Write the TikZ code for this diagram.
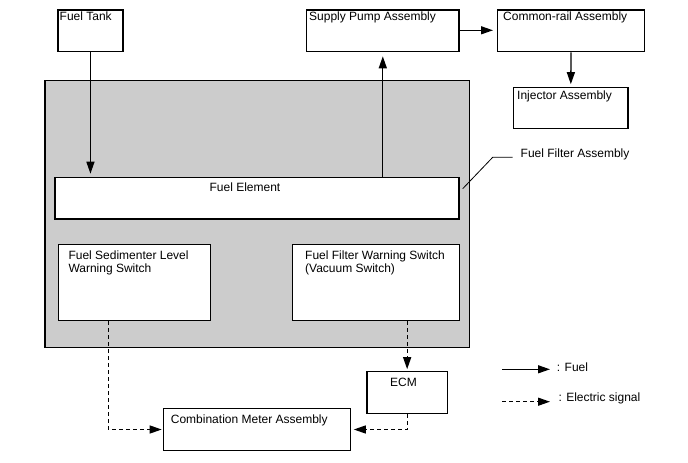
\documentclass[tikz,border=0pt]{standalone}
\usepackage{fontspec}
\setmainfont{Liberation Sans}
\usetikzlibrary{arrows.meta,calc}
\begin{document}
\begin{tikzpicture}[x=1pt,y=-1pt,
  box/.style={draw=black,line width=1.3pt,fill=white,inner sep=0pt,anchor=north west},
  grp/.style={draw=black,line width=1.3pt,fill=black!20,inner sep=0pt,anchor=north west},
  lbl/.style={inner sep=0pt,font=\fontsize{12}{14}\selectfont,anchor=base west},
  lblc/.style={inner sep=0pt,font=\fontsize{12}{14}\selectfont,anchor=base},
  fuel/.style={line width=1.3pt,-{Triangle[length=12pt,width=8pt]}},
  elec/.style={line width=1.3pt,dash pattern=on 4pt off 3pt,-{Triangle[length=12pt,width=8pt]}},
  lead/.style={line width=0.8pt}]
\useasboundingbox (0,0) rectangle (688,463);
% boxes
\node[box,minimum width=65pt,minimum height=41.7pt] (ft) at (57.3,9.3) {};
\node[box,minimum width=152.3pt,minimum height=41.7pt] (sp) at (306,9.3) {};
\node[box,minimum width=146.7pt,minimum height=41.7pt] (cr) at (497,9.3) {};
\node[box,minimum width=114.3pt,minimum height=41.3pt] (inj) at (513,86.7) {};
\node[grp,minimum width=424.4pt,minimum height=267pt] (ffa) at (44.3,80) {};
\node[box,minimum width=404pt,minimum height=41.6pt] (fe) at (54.3,176.7) {};
\node[box,minimum width=152.3pt,minimum height=76pt] (sed) at (57.7,244) {};
\node[box,minimum width=167pt,minimum height=76pt] (vac) at (291.7,244) {};
\node[box,minimum width=80.4pt,minimum height=42pt] (ecm) at (366.3,370.7) {};
\node[box,minimum width=187.3pt,minimum height=42.3pt] (cmb) at (162.7,407.7) {};
% labels
\node[lbl] (tft) at (59.5,20.8) {Fuel Tank};
\node[lbl] (tsp) at (309,20.8) {Supply Pump Assembly};
\node[lbl] (tcr) at (503,20.8) {Common-rail Assembly};
\node[lbl] (tinj) at (517,99.8) {Injector Assembly};
\node[lbl] (tffa) at (520.5,157) {Fuel Filter Assembly};
\node[lblc] (tfe) at (245,191.8) {Fuel Element};
\node[lbl] (tsed1) at (68.3,259.2) {Fuel Sedimenter Level};
\node[lbl] (tsed2) at (68.3,272.8) {Warning Switch};
\node[lbl] (tvac1) at (305,259.2) {Fuel Filter Warning Switch};
\node[lbl] (tvac2) at (305,272.8) {(Vacuum Switch)};
\node[lblc] (tecm) at (403.5,386.8) {ECM};
\node[lbl] (tcmb) at (170.7,423.3) {Combination Meter Assembly};
\node[lbl] (tlf) at (556.7,371.3) {: Fuel};
\node[lbl] (tle) at (558.3,401.8) {: Electric signal};
% leader line
\coordinate (ld1) at (462.7,188.7);
\coordinate (ld2) at (492.7,157.3);
\coordinate (ld3) at (512.7,157.3);
\draw[lead] (ld1) -- (ld2) -- (ld3);
% fuel connectors
\draw[fuel,shorten >=3pt] (ft.south) -- (ft.south |- fe.north);
\draw[fuel,shorten >=4pt] (sp.south |- fe.north) -- (sp.south);
\draw[fuel,shorten >=4pt] (sp.east |- 0,30.3) -- (cr.west |- 0,30.3);
\draw[fuel,shorten >=2.5pt] (cr.south) -- (inj.north);
% electric connectors
\draw[elec,shorten >=1pt] ($(sed.south west)+(50.6,0)$) |- (cmb.west);
\draw[elec,shorten >=1.5pt] (ecm.north |- vac.south) -- (ecm.north);
\draw[elec,shorten >=2.5pt] (ecm.south) |- (cmb.east);
% legend
\coordinate (lf1) at (502.3,369.3);
\coordinate (lf2) at (550,369.3);
\coordinate (le1) at (502.3,401.7);
\coordinate (le2) at (550,401.7);
\draw[fuel] (lf1) -- (lf2);
\draw[elec] (le1) -- (le2);
\end{tikzpicture}
\end{document}
